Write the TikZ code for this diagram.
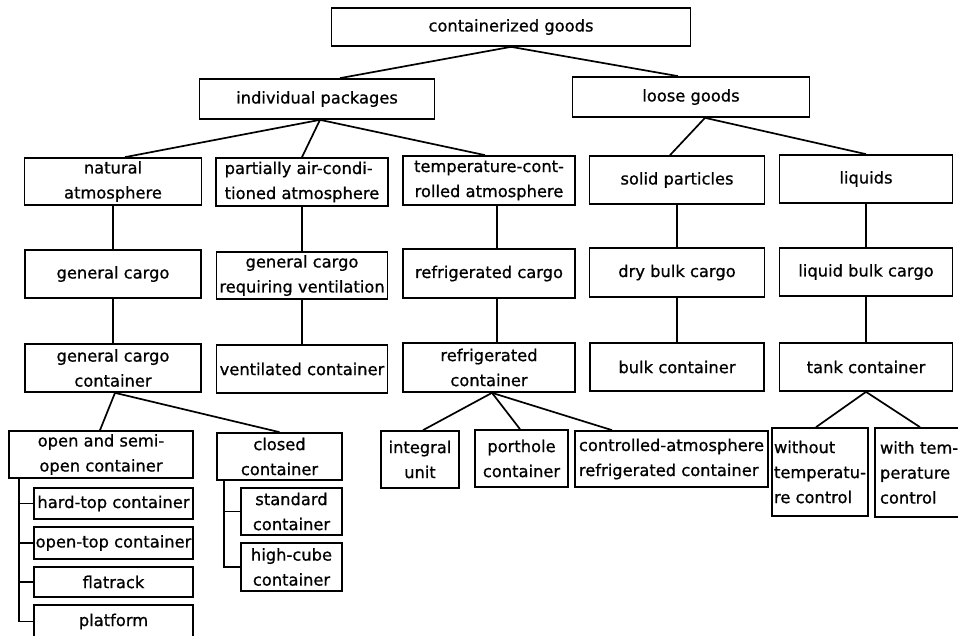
\documentclass[tikz,border=0pt]{standalone}
\usepackage{fontspec}
\setmainfont{DejaVu Sans}[FakeBold=0.8]
\begin{document}
\begin{tikzpicture}[x=1pt,y=-1pt,
  box/.style={draw, line width=1.7pt, inner sep=2pt, align=center, font=\fontsize{16.3}{25}\selectfont},
  lbox/.style={box, align=left},
  lnk/.style={line width=1.7pt}]
\useasboundingbox (0,0) rectangle (958,636);
\fill[white] (0,0) rectangle (958,636);
% level 1-2
\node[box,minimum width=359pt,minimum height=38pt] (cg) at (511,27) {containerized goods};
\node[box,minimum width=235pt,minimum height=40pt] (ip) at (317,99) {individual packages};
\node[box,minimum width=237pt,minimum height=40pt] (lg) at (691,97) {loose goods};
% level 3
\node[box,minimum width=177pt,minimum height=47pt] (nat) at (113,181.5) {natural\\atmosphere};
\node[lbox,minimum width=172pt,minimum height=48pt] (pac) at (302,182) {partially air-condi-\\tioned atmosphere};
\node[box,minimum width=172pt,minimum height=49pt] (tca) at (489,180.5) {temperature-cont-\\rolled atmosphere};
\node[box,minimum width=175pt,minimum height=48pt] (sp) at (677,180) {solid particles};
\node[box,minimum width=173pt,minimum height=48pt] (liq) at (866,179) {liquids};
% level 4
\node[box,minimum width=176pt,minimum height=48pt] (gc) at (113,274) {general cargo};
\node[box,minimum width=171pt,minimum height=47pt] (gcv) at (302,275.5) {general cargo\\requiring ventilation};
\node[box,minimum width=172pt,minimum height=49pt] (rcg) at (489,273.5) {refrigerated cargo};
\node[box,minimum width=175pt,minimum height=49pt] (dbc) at (677,272.5) {dry bulk cargo};
\node[box,minimum width=173pt,minimum height=48pt] (lbc) at (866,272) {liquid bulk cargo};
% level 5
\node[box,minimum width=176pt,minimum height=48pt] (gcc) at (113,368) {general cargo\\container};
\node[box,minimum width=171pt,minimum height=48pt] (vc) at (302,369) {ventilated container};
\node[box,minimum width=172pt,minimum height=49pt] (rc) at (489,367.5) {refrigerated\\container};
\node[box,minimum width=174pt,minimum height=48pt] (bc) at (677,367) {bulk container};
\node[box,minimum width=173pt,minimum height=48pt] (tc) at (866,367) {tank container};
% level 6
\node[box,minimum width=184pt,minimum height=47pt] (os) at (101,454.5) {open and semi-\\open container};
\node[box,minimum width=125pt,minimum height=47pt] (cc) at (279.5,456.5) {closed\\container};
\node[box,minimum width=159pt,minimum height=31pt] (ht) at (113.5,503.5) {hard-top container};
\node[box,minimum width=159pt,minimum height=32pt] (ot) at (113.5,543) {open-top container};
\node[box,minimum width=159pt,minimum height=30pt] (fr) at (113.5,582) {flatrack};
\node[box,minimum width=159pt,minimum height=33pt] (pf) at (113.5,621.5) {platform};
\node[box,minimum width=101pt,minimum height=47pt] (sc) at (291.5,511.5) {standard\\container};
\node[box,minimum width=101pt,minimum height=48pt] (hc) at (291.5,567) {high-cube\\container};
\node[box,minimum width=78pt,minimum height=57pt] (iu) at (420,459.5) {integral\\unit};
\node[box,minimum width=93pt,minimum height=57pt] (ph) at (521.5,458.5) {porthole\\container};
\node[lbox,minimum width=193pt,minimum height=56pt] (ca) at (671.5,459) {controlled-atmosphere\\refrigerated container};
\node[lbox,minimum width=96pt,minimum height=88pt] (wo) at (820,472) {without\\temperatu-\\re control};
\node[lbox,minimum width=90pt,minimum height=89pt,text width=80pt] (wi) at (920,472.5) {with tem-\\perature\\control};
% connectors
\draw[lnk] (cg.south) -- ([xshift=23pt]ip.north);
\draw[lnk] (cg.south) -- ([xshift=-13pt]lg.north);
\draw[lnk] ([xshift=3pt]ip.south) -- ([xshift=12pt]nat.north);
\draw[lnk] ([xshift=3pt]ip.south) -- (pac.north);
\draw[lnk] ([xshift=3pt]ip.south) -- ([xshift=-4pt]tca.north);
\draw[lnk] ([xshift=14pt]lg.south) -- ([xshift=-7pt]sp.north);
\draw[lnk] ([xshift=14pt]lg.south) -- (liq.north);
\draw[lnk] (nat.south) -- (nat.south |- gc.north);
\draw[lnk] (gc.south) -- (gc.south |- gcc.north);
\draw[lnk] (pac.south) -- (pac.south |- gcv.north);
\draw[lnk] (gcv.south) -- (gcv.south |- vc.north);
\draw[lnk] ([xshift=8pt]tca.south) -- ([xshift=8pt]rcg.north);
\draw[lnk] ([xshift=8pt]rcg.south) -- ([xshift=8pt]rc.north);
\draw[lnk] (sp.south) -- (sp.south |- dbc.north);
\draw[lnk] (dbc.south) -- (dbc.south |- bc.north);
\draw[lnk] (liq.south) -- (liq.south |- lbc.north);
\draw[lnk] (lbc.south) -- (lbc.south |- tc.north);
\draw[lnk] ([xshift=2pt]gcc.south) -- ([xshift=-1pt]os.north);
\draw[lnk] ([xshift=2pt]gcc.south) -- (cc.north);
\draw[lnk] ([xshift=3pt]rc.south) -- ([xshift=3pt]iu.north);
\draw[lnk] ([xshift=3pt]rc.south) -- ([xshift=-1.5pt]ph.north);
\draw[lnk] ([xshift=3pt]rc.south) -- ([xshift=-59.5pt]ca.north);
\draw[lnk] (tc.south) -- ([xshift=-4pt]wo.north);
\draw[lnk] (tc.south) -- (wi.north);
% trees
\foreach \c in {ht,ot,fr,pf} \draw[lnk] ([xshift=11pt]os.south west) |- (\c.west);
\foreach \c in {sc,hc} \draw[lnk] ([xshift=7.5pt]cc.south west) |- (\c.west);
\end{tikzpicture}
\end{document}
